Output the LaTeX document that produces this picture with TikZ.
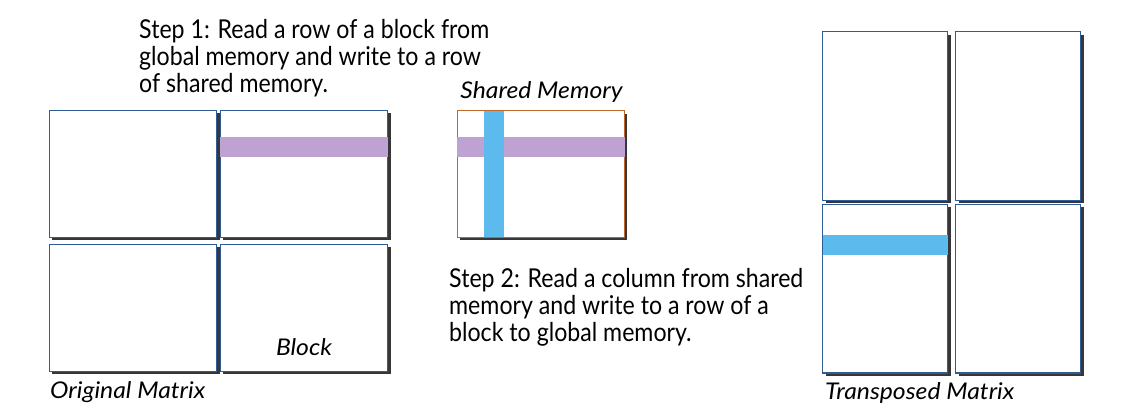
\documentclass[tikz,border=0pt]{standalone}
\usepackage{fontspec}
\setmainfont{Lato}
\newfontfamily\stepfont[FakeStretch=0.89]{Lato}
\newfontfamily\labelfont[FakeStretch=1.075]{Lato}
\usetikzlibrary{shadows}

\definecolor{framecol}{RGB}{47,92,149}
\definecolor{sharedcol}{RGB}{192,104,44}
\definecolor{shadowcol}{RGB}{55,55,58}
\definecolor{rowcol}{RGB}{190,162,210}
\definecolor{colcol}{RGB}{92,187,236}

\tikzset{
  blockbox/.style={rectangle,draw=framecol,line width=1.3pt,fill=white,inner sep=0pt,
    drop shadow={shadow xshift=3pt,shadow yshift=-3pt,opacity=1,fill=shadowcol}},
  steptext/.style={anchor=base west,align=left,inner sep=0pt,
    font=\stepfont\fontsize{26}{27}\selectfont},
  labeltext/.style={inner sep=0pt,font=\labelfont\itshape\fontsize{23}{26}\selectfont}
}

\begin{document}
\begin{tikzpicture}[x=1pt,y=-1pt]
  \useasboundingbox (0,0) rectangle (1138,411);

  % original matrix
  \begin{scope}[every node/.style={blockbox,minimum width=167.5pt,minimum height=127pt}]
    \node (o1) at (132.9,174) {};
    \node (o2) at (304,174) {};
    \node (o3) at (132.9,308) {};
    \node (o4) at (304,308) {};
  \end{scope}

  % shared memory
  \node[blockbox,draw=sharedcol,minimum width=167pt,minimum height=126.6pt] (sm) at (540.8,174) {};

  % transposed matrix
  \begin{scope}[every node/.style={blockbox,minimum width=125pt,minimum height=168.6pt}]
    \node (t1) at (885.2,116) {};
    \node (t2) at (1018.2,116) {};
    \node (t3) at (885.2,288.8) {};
    \node (t4) at (1018.2,288.8) {};
  \end{scope}

  % rows and columns
  \fill[rowcol] (220.3,137) rectangle (388.2,156.7);
  \fill[rowcol] (457.3,137) rectangle (625,156.7);
  \fill[colcol] (484,110.7) rectangle (504,237.3);
  \fill[colcol] (823,235) rectangle (948,254.7);

  % texts
  \node[steptext] (step1) at (139,92.3) {Step 1: Read a row of a block from\\global memory and write to a row\\of shared memory.};
  \node[steptext] (step2) at (449,341.7) {Step 2: Read a column from shared\\memory and write to a row of a\\block to global memory.};

  \node[labeltext,anchor=base] (shl) at (541.5,99) {Shared Memory};
  \node[labeltext,anchor=base] (bl) at (304,355.7) {Block};
  \node[labeltext,anchor=base west] (oml) at (50,399) {Original Matrix};
  \node[labeltext,anchor=base west] (tml) at (825,400) {Transposed Matrix};
\end{tikzpicture}
\end{document}
